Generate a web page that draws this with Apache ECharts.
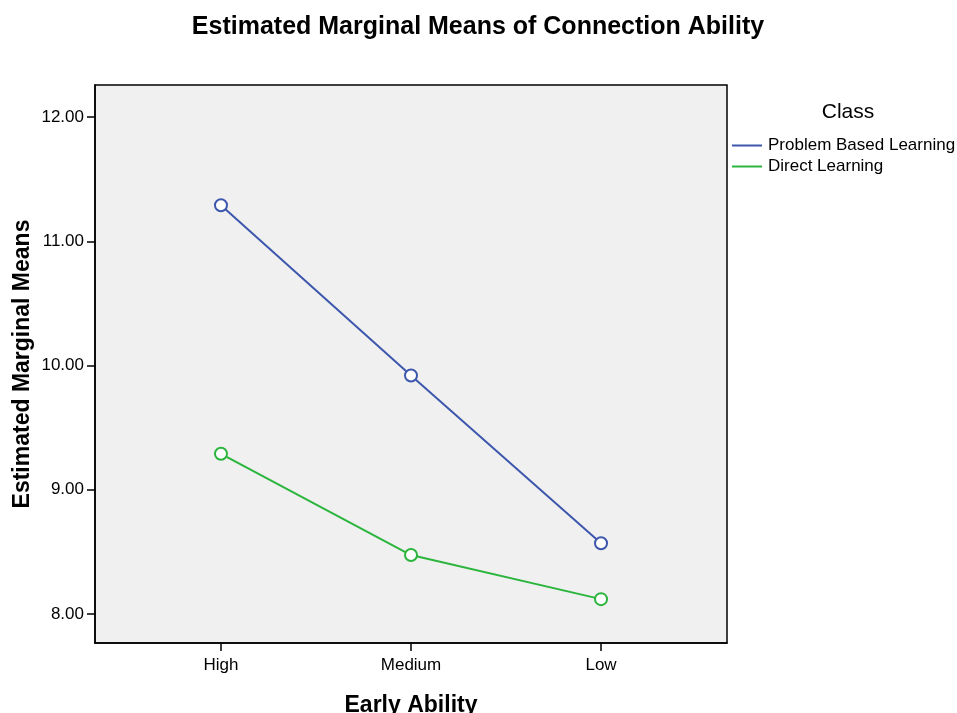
<!DOCTYPE html>
<html>
<head>
<meta charset="utf-8">
<script src="https://cdn.jsdelivr.net/npm/echarts@6/dist/echarts.min.js"></script>
<style>html,body{margin:0;padding:0;background:#fff}#c{width:957px;height:713px}</style>
</head>
<body>
<div id="c"></div>
<script>
var categories = ['High', 'Medium', 'Low'];
var seriesNames = ['Problem Based Learning', 'Direct Learning'];
var pblValues = [11.29, 9.92, 8.57];
var dlValues = [9.29, 8.475, 8.12];
var yTicks = [8, 9, 10, 11, 12];
var xPositions = [1, 2, 3];

var chart = echarts.init(document.getElementById('c'), null, {renderer: 'canvas'});
var FONT = 'Liberation Sans, Arial, sans-serif';
function pts(vals) { return vals.map(function (v, i) { return [xPositions[i], v]; }); }

chart.setOption({
  animation: false,
  backgroundColor: '#ffffff',
  title: [
    {text: 'Estimated Marginal Means of Connection Ability', left: 473, top: 10, textAlign: 'center',
     textStyle: {fontFamily: FONT, fontSize: 25, fontWeight: 'bold', color: '#000'}},
    {text: 'Class', left: 843, top: 97, textAlign: 'center',
     textStyle: {fontFamily: FONT, fontSize: 21, fontWeight: 'normal', color: '#000'}}
  ],
  legend: {
    orient: 'vertical', left: 732, top: 137, itemGap: 4, padding: 0,
    icon: 'rect', itemWidth: 30, itemHeight: 2,
    textStyle: {fontFamily: FONT, fontSize: 17, color: '#000', padding: [0, 0, 0, 1]},
    data: seriesNames
  },
  grid: {left: 95, top: 85, right: 230, bottom: 70, show: true, backgroundColor: '#f0f0f0',
         borderColor: '#000', borderWidth: 1.5, containLabel: false, outerBoundsMode: 'none'},
  xAxis: {
    type: 'value', min: 0.337, max: 3.663,
    name: 'Early Ability', nameLocation: 'middle', nameGap: 51, nameMoveOverlap: false,
    nameTextStyle: {fontFamily: FONT, fontSize: 23, fontWeight: 'bold', color: '#000'},
    splitLine: {show: false},
    axisLine: {show: true, lineStyle: {color: '#000', width: 1.5}},
    axisTick: {show: true, inside: false, length: 8, customValues: xPositions, lineStyle: {color: '#000', width: 1.5}},
    axisLabel: {customValues: xPositions, margin: 14, fontFamily: FONT, fontSize: 17, color: '#000',
      formatter: function (v) { return categories[Math.round(v) - 1] || ''; }}
  },
  yAxis: {
    type: 'value', min: 7.767, max: 12.258,
    name: 'Estimated Marginal Means', nameLocation: 'middle', nameGap: 61, nameMoveOverlap: false,
    nameTextStyle: {fontFamily: FONT, fontSize: 23, fontWeight: 'bold', color: '#000'},
    splitLine: {show: false},
    axisLine: {show: true, lineStyle: {color: '#000', width: 1.5}},
    axisTick: {show: true, inside: false, length: 8, customValues: yTicks, lineStyle: {color: '#000', width: 1.5}},
    axisLabel: {customValues: yTicks, margin: 11, fontFamily: FONT, fontSize: 17, color: '#000',
      formatter: function (v) { return v.toFixed(2); }}
  },
  series: [
    {name: seriesNames[0], type: 'line', data: pts(pblValues), symbol: 'emptyCircle', symbolSize: 12,
     color: '#3d57ad', lineStyle: {width: 2, color: '#3d57ad'}, itemStyle: {color: '#3d57ad', borderWidth: 1.5}, z: 3},
    {name: seriesNames[1], type: 'line', data: pts(dlValues), symbol: 'emptyCircle', symbolSize: 12,
     color: '#2bb53c', lineStyle: {width: 2, color: '#2bb53c'}, itemStyle: {color: '#2bb53c', borderWidth: 1.5}, z: 3}
  ]
});
</script>
</body>
</html>
